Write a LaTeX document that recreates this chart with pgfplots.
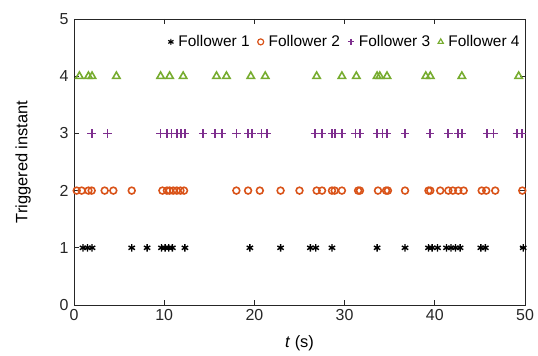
\documentclass[border=0pt]{standalone}
\usepackage{pgfplots}
\pgfplotsset{compat=1.18}
\usepackage{fontspec}
\setmainfont{Liberation Sans}
\definecolor{c1}{RGB}{0,0,0}
\definecolor{c2}{RGB}{217,83,25}
\definecolor{c3}{RGB}{126,47,142}
\definecolor{c4}{RGB}{119,172,48}
\definecolor{axc}{RGB}{38,38,38}
\begin{document}
\begin{tikzpicture}
\begin{axis}[
  scale only axis,
  width=451bp, height=286bp,
  xmin=0, xmax=50, ymin=0, ymax=5,
  xtick={0,10,20,30,40,50},
  ytick={0,1,2,3,4,5},
  tick align=inside,
  major tick length=5bp,
  axis line style={axc, line width=0.8pt},
  every tick/.style={axc, line width=0.8pt},
  tick label style={font=\fontsize{16}{18}\selectfont, text=axc},
  /pgf/number format/assume math mode=true,
  xticklabel style={yshift=-1bp},
  yticklabel style={xshift=-2bp},
  xlabel={\textit{t} (s)},
  ylabel={Triggered instant},
  label style={font=\fontsize{16.5}{19}\selectfont},
  xlabel style={at={(axis description cs:0.5,-0.133)}, anchor=center},
  ylabel style={at={(axis description cs:-0.113,0.5)}, anchor=center},
  clip=false,
  legend columns=4,
  legend image post style={mark size=3bp, line width=1.2pt},
  legend style={draw=none, fill=none, at={(axis description cs:0.995,0.92)}, anchor=east,
    font=\fontsize{15.5}{17}\selectfont, inner sep=1pt,
    /tikz/every odd column/.append style={column sep=3bp},
    /tikz/every even column/.append style={column sep=6bp}},
  legend cell align=left,
]
\addplot[only marks, mark=asterisk, mark size=3.7bp, color=c1, line width=1.4pt] coordinates {
(1.0,1)(1.5,1)(2.0,1)(6.4,1)(8.1,1)(9.7,1)(10.1,1)(10.5,1)(10.9,1)(12.3,1)
(19.5,1)(22.9,1)(26.2,1)(26.8,1)(28.6,1)(33.6,1)(36.7,1)(39.3,1)(39.7,1)(40.3,1)
(41.3,1)(41.8,1)(42.3,1)(42.8,1)(45.1,1)(45.6,1)(49.8,1)};
\addlegendentry{Follower 1}
\addplot[only marks, mark=o, mark size=3.4bp, color=c2, line width=1.6pt] coordinates {
(0.3,2)(0.85,2)(1.6,2)(1.96,2)(3.4,2)(4.36,2)(6.4,2)(9.8,2)(10.3,2)(10.6,2)
(11.0,2)(11.4,2)(11.8,2)(12.2,2)(18.0,2)(19.3,2)(20.6,2)(22.9,2)(25.0,2)(26.9,2)
(27.5,2)(28.6,2)(28.9,2)(29.7,2)(31.5,2)(31.7,2)(33.7,2)(34.6,2)(34.8,2)(36.7,2)
(39.3,2)(39.5,2)(40.6,2)(41.5,2)(42.0,2)(42.6,2)(43.2,2)(45.2,2)(45.7,2)(46.7,2)(49.7,2)};
\addlegendentry{Follower 2}
\addplot[only marks, mark=+, mark size=4.2bp, color=c3, line width=1.7pt] coordinates {
(1.96,3)(3.7,3)(9.6,3)(10.3,3)(10.8,3)(11.4,3)(11.9,3)(12.3,3)(14.3,3)(15.6,3)
(16.4,3)(18.0,3)(19.3,3)(19.7,3)(20.8,3)(21.4,3)(26.7,3)(27.5,3)(28.6,3)(28.9,3)
(29.7,3)(31.2,3)(31.7,3)(33.6,3)(34.2,3)(34.7,3)(36.7,3)(39.5,3)(41.5,3)(42.6,3)
(43.0,3)(45.8,3)(46.5,3)(49.1,3)(49.7,3)};
\addlegendentry{Follower 3}
\addplot[only marks, mark=triangle, mark size=4.2bp, color=c4, line width=1.6pt] coordinates {
(0.6,4)(1.6,4)(2.0,4)(4.7,4)(9.6,4)(10.6,4)(12.1,4)(15.8,4)(16.9,4)(19.6,4)
(21.2,4)(26.9,4)(29.7,4)(31.3,4)(33.6,4)(33.9,4)(34.7,4)(39.0,4)(39.5,4)(43.0,4)(49.3,4)};
\addlegendentry{Follower 4}
\end{axis}
\path (current axis.south west) ++(-74bp,-51bp) rectangle ++(538bp,356bp);
\end{tikzpicture}
\end{document}
